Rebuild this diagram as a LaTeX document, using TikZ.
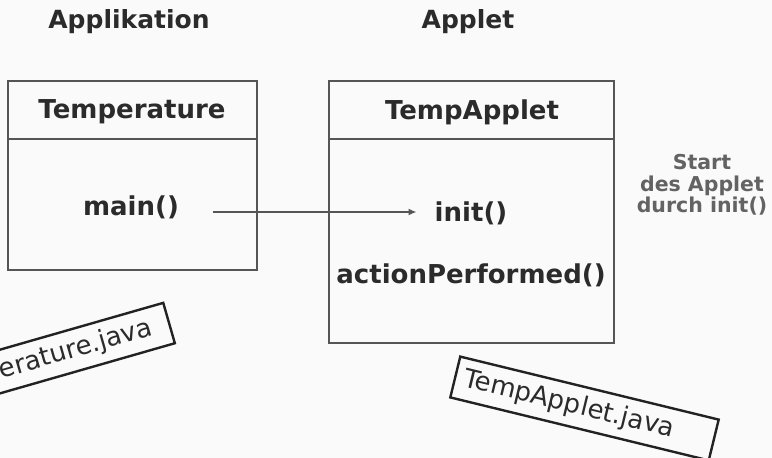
\documentclass[tikz,border=0pt]{standalone}
\usepackage{fontspec}
\setmainfont{DejaVu Sans}
\usetikzlibrary{arrows.meta}
\definecolor{bg}{HTML}{FAFAFA}
\definecolor{ink}{HTML}{2B2B2B}
\definecolor{frame}{HTML}{555555}
\definecolor{note}{HTML}{636363}
\definecolor{tag}{HTML}{222222}
\tikzset{
  x=1pt, y=1pt,
  txt/.style={inner sep=0pt, text=ink, font=\fontsize{26}{28}\selectfont\bfseries},
  title/.style={inner sep=0pt, text=ink, font=\fontsize{25}{27}\selectfont\bfseries},
  classbox/.style={draw=frame, line width=1.4pt},
  link/.style={draw=frame, line width=2pt, -{Latex[length=8pt,width=7pt]}},
  sidenote/.style={inner sep=0pt, text=note, align=center,
    font=\fontsize{20.5}{21.5}\selectfont\bfseries},
  filetag/.style={draw=tag, line width=2.4pt, fill=bg, text=ink,
    font=\fontsize{26}{28}\selectfont, minimum height=42pt, inner sep=0pt}
}
\begin{document}
\begin{tikzpicture}
  \fill[bg] (0,0) rectangle (772,-458);
  \useasboundingbox (0,0) rectangle (772,-458);

  % column headings
  \node[title] (happ) at (129,-22) {Applikation};
  \node[title] (hlet) at (468,-22) {Applet};

  % class Temperature
  \draw[classbox] (8,-81) rectangle (257,-270);
  \draw[classbox] (8,-139) -- (257,-139);
  \node[txt] (temp) at (132,-112) {Temperature};
  \node[txt] (main) at (131,-207) {main()};

  % class TempApplet
  \draw[classbox] (329,-81) rectangle (614,-343);
  \draw[classbox] (329,-139) -- (614,-139);
  \node[txt] (tapp) at (472,-112) {TempApplet};
  \node[txt] (init) at (471,-213) {init()};
  \node[txt] (act) at (471,-275) {actionPerformed()};

  % call from main() to init()
  \draw[link] ([xshift=34pt]main.east |- 0,-212) -- ([xshift=-18pt]init.west |- 0,-212);

  % remark
  \node[sidenote] (rem) at (702,-185) {Start\\des Applet\\durch init()};

  % source files
  \node[filetag, rotate=16, minimum width=266pt, text width=230pt, align=right]
    (fapp) at (41.2,-359.7) {Temperature.java};
  \node[filetag, rotate=-13.7, minimum width=266pt, text width=248pt, align=left]
    (flet) at (584.5,-408.5) {TempApplet.java};
\end{tikzpicture}
\end{document}
